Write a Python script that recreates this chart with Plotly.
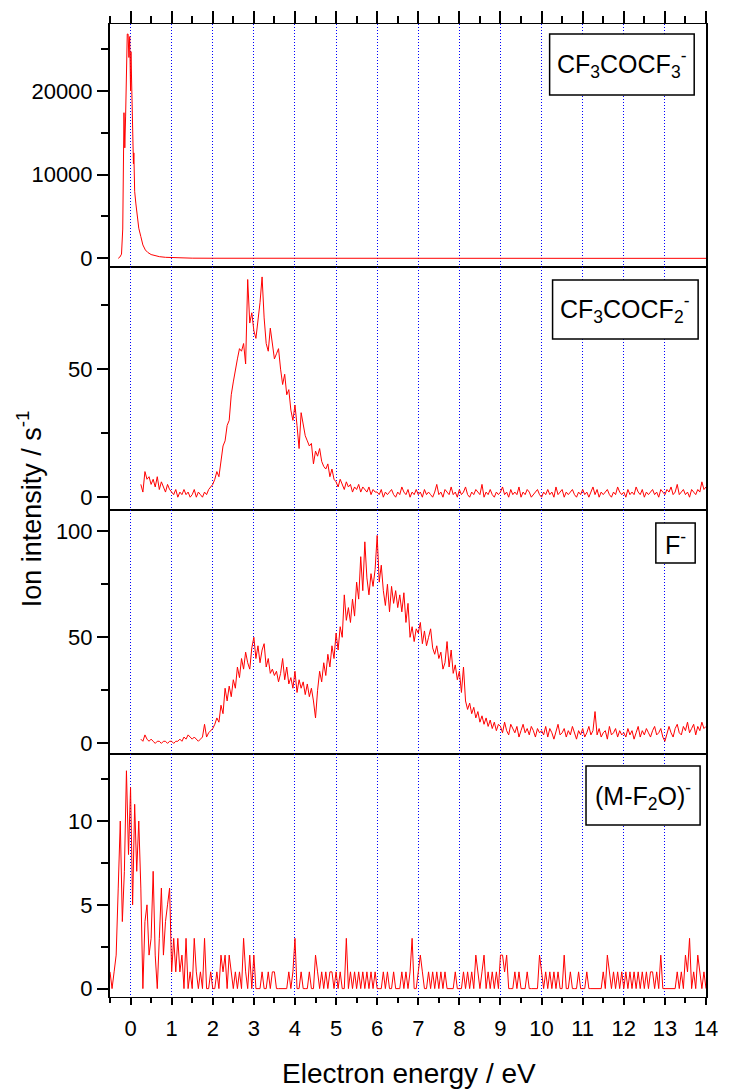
import numpy as np
import plotly.graph_objects as go

# ---------------- data ----------------
# Panel 1: CF3COCF3- (parent anion), energies (eV) and counts (1/s)
E_parent = [-0.30, -0.26, -0.22, -0.19, -0.16, -0.14, -0.12, -0.10, -0.08, -0.06,
            -0.04, -0.02, 0.00, 0.01, 0.03, 0.04, 0.06, 0.07, 0.08, 0.10,
            0.13, 0.16, 0.20, 0.25, 0.30, 0.36, 0.42, 0.50, 0.60, 0.70,
            0.85, 1.00, 1.25, 1.50, 2.0, 3.0, 4.0, 5.0, 6.0, 7.0,
            8.0, 9.0, 10.0, 11.0, 12.0, 13.0, 14.0]
I_parent = [0, 150, 500, 3500, 17400, 13200, 17000, 21000, 26800, 26800,
            24000, 26500, 20000, 24700, 20500, 20100, 12500, 11300, 12600, 8000,
            6500, 5200, 3600, 2600, 1600, 1000, 700, 450, 300, 200,
            120, 80, 40, 20, 10, 0, 0, 0, 0, 0,
            0, 0, 0, 0, 0, 0, 0]

# Panel 2: CF3COCF2-, energy grid start 0.25 eV, step 0.05 eV
E2_start, E2_step = 0.25, 0.05
I_cf2 = [
    5, 2, 10, 7, 8, 5, 7, 4, 8, 3, 6, 4, 2, 5, 3,
    2, 1, 3, 0, 2, 1, 3, 1, 2, 0, 1, 3, 0, 2, 1, 0, 2, 1, 3, 4,
    5, 7, 10, 8, 14, 20, 22, 28, 30, 40, 45, 50, 54, 58, 57, 60, 52, 85, 68, 72,
    65, 62, 68, 76, 86, 70, 60, 57, 66, 60, 54, 56, 58, 50, 44, 48, 40, 42, 34, 30,
    36, 28, 19, 33, 28, 24, 22, 20, 21, 13, 18, 16, 19, 14, 12, 11, 13, 8, 11, 7,
    6, 4, 7, 5, 3, 6, 4, 5, 2, 4, 3, 5, 2, 4, 3, 2, 4, 1, 3, 2,
    2, 1, 3, 0, 2, 1, 2, 3, 1, 0, 2, 1, 4, 2, 1, 3, 0, 2, 1, 3,
    1, 2, 0, 3, 1, 2, 1, 0, 2, 5, 1, 2, 0, 3, 2, 1, 4, 1, 2, 0,
    3, 1, 2, 4, 1, 0, 2, 1, 3, 2, 1, 5, 0, 2, 1, 3, 1, 0, 2, 1,
    2, 4, 1, 2, 0, 3, 1, 2, 1, 4, 0, 2, 1, 3, 2, 0, 1, 2, 3, 1,
    0, 2, 1, 3, 1, 2, 0, 4, 1, 2, 3, 0, 2, 1, 2, 3, 1, 0, 2, 1,
    3, 1, 2, 0, 2, 4, 1, 3, 0, 2, 1, 2, 3, 1, 0, 2, 1, 4, 2, 1,
    2, 0, 3, 1, 2, 1, 4, 2, 1, 3, 0, 2, 1, 2, 3, 1, 2, 0, 3, 2,
    1, 3, 2, 4, 1, 2, 5, 1, 2, 3, 1, 2, 0, 3, 2, 1, 3, 2, 6, 3,
    4]

# Panel 3: F-, energy grid start 0.25 eV, step 0.05 eV
E3_start, E3_step = 0.25, 0.05
I_F = [
    2, 1, 4, 2, 1, 2, 1, 0, 1, 1, 0, 1, 1, 0, 1,
    1, 0, 1, 1, 2, 1, 3, 2, 4, 3, 2, 3, 2, 1, 2, 3, 9, 3, 5, 6,
    7, 9, 12, 10, 18, 14, 26, 20, 27, 22, 30, 26, 36, 31, 40, 35, 43, 38, 35, 45,
    50, 40, 46, 38, 44, 47, 36, 40, 33, 35, 32, 34, 29, 33, 40, 30, 36, 28, 31, 26,
    34, 24, 30, 26, 29, 23, 28, 22, 26, 20, 12, 25, 34, 29, 38, 32, 42, 36, 46, 40,
    52, 44, 55, 50, 70, 58, 64, 57, 68, 60, 76, 68, 88, 72, 95, 78, 70, 80, 74, 82,
    98, 76, 84, 72, 65, 75, 62, 74, 66, 72, 64, 70, 62, 71, 57, 66, 50, 55, 48, 54,
    52, 57, 47, 53, 46, 50, 54, 45, 42, 46, 40, 43, 35, 38, 48, 36, 44, 33, 37, 30,
    34, 24, 36, 20, 16, 19, 14, 17, 12, 15, 10, 13, 9, 12, 8, 11, 7, 10, 6, 9,
    8, 5, 10, 6, 4, 9, 7, 5, 8, 3, 6, 9, 5, 7, 4, 8, 6, 3, 7, 5,
    6, 4, 8, 3, 7, 5, 2, 6, 9, 4, 5, 7, 3, 6, 4, 8, 5, 2, 6, 4,
    7, 3, 5, 8, 4, 6, 15, 4, 7, 3, 5, 6, 2, 8, 4, 5, 7, 3, 6, 4,
    5, 3, 7, 4, 6, 2, 5, 8, 3, 6, 4, 7, 5, 3, 6, 8, 4, 5, 7, 3,
    1, 4, 8, 5, 3, 7, 9, 5, 4, 8, 6, 10, 5, 7, 9, 4, 8, 6, 10, 7,
    8]

# Panel 4: (M-F2O)-, energy grid start -0.5 eV, step 0.05 eV
E4_start, E4_step = -0.5, 0.05
I_MF2O = [
    1, 0, 1, 2, 6, 10, 4, 7, 13, 8,
    12, 5, 11, 7, 10, 6, 0, 4, 5, 2, 3, 7, 2, 0, 3, 6, 2, 4, 5, 6,
    1, 3, 1, 3, 1, 2, 0, 3, 0, 1, 0, 3, 1, 0, 1, 0, 3, 0, 0, 1,
    0, 0, 1, 0, 2, 1, 2, 0, 2, 1, 0, 1, 0, 1, 0, 3, 1, 0, 2, 0,
    2, 0, 0, 0, 1, 0, 0, 1, 0, 1, 1, 0, 0, 0, 0, 0, 0, 1, 0, 1,
    3, 0, 0, 1, 0, 0, 0, 1, 0, 0, 2, 1, 0, 1, 0, 1, 0, 1, 1, 0,
    1, 0, 1, 0, 0, 3, 0, 1, 0, 1, 0, 1, 0, 1, 0, 1, 0, 1, 0, 1,
    0, 0, 0, 1, 0, 1, 0, 0, 1, 0, 0, 0, 1, 0, 1, 0, 1, 3, 0, 0,
    1, 2, 1, 0, 0, 1, 0, 1, 0, 1, 0, 1, 0, 1, 0, 0, 0, 0, 1, 0,
    0, 0, 1, 0, 1, 0, 1, 0, 2, 1, 0, 1, 2, 0, 1, 0, 1, 0, 1, 0,
    2, 2, 1, 2, 0, 0, 0, 1, 0, 1, 0, 0, 0, 1, 0, 0, 0, 0, 0, 2,
    1, 0, 1, 0, 1, 0, 1, 0, 1, 0, 0, 2, 0, 0, 1, 0, 0, 0, 1, 0,
    0, 0, 1, 0, 0, 0, 0, 0, 0, 0, 1, 0, 2, 1, 0, 1, 0, 1, 0, 1,
    0, 1, 0, 1, 0, 1, 0, 1, 0, 1, 0, 1, 0, 1, 1, 0, 1, 0, 2, 0,
    0, 0, 0, 0, 0, 0, 1, 0, 1, 0, 2, 1, 3, 0, 1, 0, 2, 1, 0, 1,
    0]

def grid(start, step, n):
    return np.round(start + step * np.arange(n), 3)

E_cf2 = grid(E2_start, E2_step, len(I_cf2))
E_F = grid(E3_start, E3_step, len(I_F))
E_MF2O = grid(E4_start, E4_step, len(I_MF2O))

panel_labels = ["CF<sub>3</sub>COCF<sub>3</sub><sup>-</sup>",
                "CF<sub>3</sub>COCF<sub>2</sub><sup>-</sup>",
                "F<sup>-</sup>",
                "(M-F<sub>2</sub>O)<sup>-</sup>"]
y_ranges = [[-1000, 28000], [-5, 90], [-5, 110], [-0.5, 14]]
y_dticks = [10000, 50, 50, 5]
y_minor = [5000, 25, 25, 2.5]
x_range = [-0.5, 14]
x_title = "Electron energy / eV"
y_title = "Ion intensity / s<sup>-1</sup>"

# ---------------- layout geometry (pixels) ----------------
W, H = 730, 1089
L, R, T, B = 110, 716, 24, 997
bounds = [24, 266.7, 510, 754, 997]   # panel edges, top to bottom

def px2paper_x(px):
    return (px - L) / (R - L)

def px2paper_y(py):
    return (B - py) / (B - T)

FONT = "Liberation Sans, Arial, Helvetica, sans-serif"
RED = "#ff0000"

fig = go.Figure()
series = [(E_parent, I_parent), (E_cf2, I_cf2), (E_F, I_F), (E_MF2O, I_MF2O)]
for i, (xx, yy) in enumerate(series):
    sfx = "" if i == 0 else str(i + 1)
    fig.add_trace(go.Scatter(x=xx, y=yy, mode="lines",
                             line=dict(color=RED, width=1),
                             xaxis="x" + sfx, yaxis="y" + sfx,
                             showlegend=False, hoverinfo="skip"))

layout = dict(width=W, height=H, plot_bgcolor="white", paper_bgcolor="white",
              margin=dict(l=L, r=W - R, t=T, b=H - B),
              font=dict(family=FONT, color="black"))

grid_kw = dict(showgrid=True, gridcolor="#0000ff", gridwidth=1, griddash="1px,2px")
for i in range(4):
    sfx = "" if i == 0 else str(i + 1)
    dom = [px2paper_y(bounds[i + 1]), px2paper_y(bounds[i])]
    dom = [max(0, round(dom[0], 5)), min(1, round(dom[1], 5))]
    xa = dict(domain=[0, 1], anchor="y" + sfx, range=x_range, dtick=1, tick0=0,
              showline=True, linecolor="black", linewidth=1.3, mirror=True,
              zeroline=False, **grid_kw)
    if i == 0:
        xa.update(side="top", ticks="outside", ticklen=12, tickwidth=2, tickcolor="black",
                  showticklabels=False,
                  minor=dict(dtick=0.5, tick0=0, ticks="outside", ticklen=7, tickwidth=2,
                             tickcolor="black", showgrid=False))
    elif i == 3:
        xa.update(side="bottom", ticks="outside", ticklen=7, tickwidth=2, tickcolor="black",
                  showticklabels=True, tickfont=dict(size=22), ticklabelstandoff=4,
                  minor=dict(dtick=0.5, tick0=0, ticks="outside", ticklen=5, tickwidth=2,
                             tickcolor="black", showgrid=False))
    else:
        xa.update(ticks="", showticklabels=False)
    ya = dict(domain=dom, anchor="x" + sfx, range=y_ranges[i], dtick=y_dticks[i], tick0=0,
              tickformat="d", ticks="outside", ticklen=11, tickwidth=2, tickcolor="black",
              tickfont=dict(size=22), ticklabelstandoff=0,
              showline=True, linecolor="black", linewidth=2, mirror=True,
              showgrid=False, zeroline=False,
              minor=dict(dtick=y_minor[i], tick0=0, ticks="outside", ticklen=7, tickwidth=2,
                         tickcolor="black", showgrid=False))
    layout["xaxis" + sfx] = xa
    layout["yaxis" + sfx] = ya

fig.update_layout(**layout)

# label boxes (pixel boxes) and texts
boxes = [(557, 34, 704, 95), (560, 280, 708, 339), (665, 523, 705, 563), (594, 766, 710, 825)]
for (x0, y0, x1, y1), lab in zip(boxes, panel_labels):
    fig.add_shape(type="rect", xref="paper", yref="paper",
                  x0=px2paper_x(x0), x1=px2paper_x(x1),
                  y0=px2paper_y(y1), y1=px2paper_y(y0),
                  line=dict(color="black", width=1.5), fillcolor="white", layer="above")
    fig.add_annotation(text=lab, xref="paper", yref="paper",
                       x=px2paper_x((x0 + x1) / 2), y=px2paper_y((y0 + y1) / 2),
                       xanchor="center", yanchor="middle", showarrow=False,
                       font=dict(size=25, family=FONT, color="black"))

fig.add_annotation(text=x_title, xref="paper", yref="paper",
                   x=px2paper_x(414), y=px2paper_y(1073), xanchor="center", yanchor="middle",
                   showarrow=False, font=dict(size=28, family=FONT, color="black"))
fig.add_annotation(text=y_title, xref="paper", yref="paper", textangle=-90,
                   x=px2paper_x(28), y=px2paper_y(509), xanchor="center", yanchor="middle",
                   showarrow=False, font=dict(size=27, family=FONT, color="black"))

fig.write_html("out.html", config={"displayModeBar": False},
               post_script="document.body.style.margin='0px';")
